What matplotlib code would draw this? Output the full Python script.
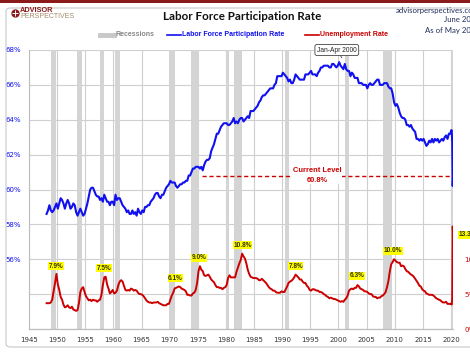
import matplotlib.pyplot as plt
import numpy as np
from matplotlib.lines import Line2D
from matplotlib.patches import Rectangle, FancyBboxPatch

# quarterly values 1948-2019, then monthly Jan-May 2020
years = list(range(1948, 2020))
lfpr_q = [
    [58.6, 58.8, 59.1, 58.8], [58.7, 58.8, 59.0, 59.2], [58.9, 59.2, 59.5, 59.4],
    [59.2, 58.9, 59.2, 59.4], [59.2, 58.9, 59.0, 59.2], [59.1, 58.7, 58.5, 58.7],
    [58.9, 58.7, 58.5, 58.6], [58.9, 59.2, 59.6, 60.0], [60.1, 60.1, 59.9, 59.7],
    [59.6, 59.6, 59.4, 59.5], [59.3, 59.7, 59.5, 59.3], [59.3, 59.1, 59.3, 59.3],
    [59.1, 59.7, 59.4, 59.5], [59.5, 59.3, 59.1, 59.0], [58.9, 58.7, 58.8, 58.6],
    [58.6, 58.8, 58.6, 58.7], [58.5, 58.9, 58.7, 58.6], [58.8, 58.7, 59.0, 59.0],
    [59.1, 59.1, 59.3, 59.4], [59.5, 59.7, 59.8, 59.8], [59.6, 59.5, 59.7, 59.7],
    [59.9, 60.1, 60.2, 60.3], [60.5, 60.4, 60.4, 60.4], [60.2, 60.1, 60.2, 60.3],
    [60.3, 60.4, 60.4, 60.5], [60.5, 60.8, 60.8, 61.0], [61.2, 61.2, 61.3, 61.3],
    [61.3, 61.2, 61.3, 61.1], [61.4, 61.6, 61.7, 61.7], [61.8, 62.2, 62.4, 62.6],
    [62.9, 63.2, 63.2, 63.4], [63.6, 63.7, 63.8, 63.8], [63.8, 63.7, 63.7, 63.8],
    [63.9, 64.1, 63.8, 63.9], [63.8, 64.0, 64.1, 64.1], [63.9, 64.0, 64.1, 64.2],
    [64.1, 64.5, 64.5, 64.5], [64.6, 64.7, 64.8, 65.0], [65.1, 65.3, 65.4, 65.4],
    [65.5, 65.6, 65.7, 65.8], [65.8, 65.8, 66.0, 66.1], [66.5, 66.5, 66.5, 66.5],
    [66.7, 66.6, 66.5, 66.4], [66.2, 66.3, 66.1, 66.1], [66.3, 66.6, 66.5, 66.4],
    [66.3, 66.3, 66.3, 66.3], [66.6, 66.6, 66.6, 66.7], [66.8, 66.6, 66.6, 66.6],
    [66.5, 66.7, 66.8, 67.0], [67.0, 67.1, 67.1, 67.1], [67.1, 67.0, 67.0, 67.2],
    [67.2, 67.1, 67.0, 67.1], [67.3, 67.1, 67.0, 66.9], [67.2, 66.9, 66.8, 66.8],
    [66.5, 66.7, 66.6, 66.4], [66.4, 66.4, 66.1, 66.1], [66.1, 66.0, 66.0, 66.0],
    [65.8, 66.0, 66.1, 66.0], [66.0, 66.1, 66.2, 66.3], [66.3, 66.0, 66.0, 66.0],
    [66.1, 66.1, 66.1, 65.9], [65.8, 65.8, 65.5, 65.0], [64.8, 64.9, 64.7, 64.4],
    [64.2, 64.1, 64.1, 64.0], [63.7, 63.7, 63.6, 63.7], [63.5, 63.4, 63.3, 62.9],
    [62.9, 62.8, 62.9, 62.8], [62.9, 62.7, 62.5, 62.6], [62.8, 62.7, 62.9, 62.7],
    [62.9, 62.8, 62.9, 62.7], [62.8, 62.9, 62.8, 63.0], [63.1, 62.9, 63.2, 63.2],
]
unrate_q = [
    [3.7, 3.7, 3.7, 3.8], [4.2, 5.4, 6.6, 7.9], [6.4, 5.6, 4.6, 4.2],
    [3.5, 3.1, 3.2, 3.4], [3.1, 3.0, 3.2, 2.8], [2.7, 2.6, 2.7, 3.7],
    [5.3, 5.8, 6.0, 5.3], [4.7, 4.4, 4.1, 4.2], [4.0, 4.2, 4.1, 4.1],
    [3.9, 4.1, 4.2, 4.9], [6.3, 7.4, 7.5, 6.4], [5.8, 5.1, 5.3, 5.6],
    [5.1, 5.2, 5.5, 6.3], [6.8, 7.0, 6.8, 6.2], [5.6, 5.5, 5.6, 5.5],
    [5.8, 5.7, 5.5, 5.6], [5.5, 5.2, 5.0, 5.0], [4.9, 4.7, 4.4, 4.1],
    [3.9, 3.8, 3.8, 3.7], [3.8, 3.8, 3.8, 3.9], [3.7, 3.6, 3.5, 3.4],
    [3.4, 3.4, 3.6, 3.6], [4.2, 4.8, 5.2, 5.8], [5.9, 6.0, 6.1, 6.0],
    [5.8, 5.7, 5.6, 5.4], [4.9, 4.9, 4.8, 4.8], [5.1, 5.2, 5.6, 6.6],
    [8.3, 9.0, 8.5, 8.3], [7.7, 7.6, 7.7, 7.8], [7.5, 7.1, 6.9, 6.7],
    [6.3, 6.0, 6.0, 5.9], [5.9, 5.7, 5.9, 6.0], [6.3, 7.3, 7.7, 7.4],
    [7.4, 7.4, 7.4, 8.2], [8.8, 9.4, 9.9, 10.8], [10.4, 10.1, 9.4, 8.5],
    [7.9, 7.5, 7.4, 7.3], [7.3, 7.3, 7.2, 7.0], [7.0, 7.2, 7.0, 6.8],
    [6.6, 6.3, 6.0, 5.8], [5.7, 5.5, 5.5, 5.3], [5.2, 5.2, 5.2, 5.4],
    [5.3, 5.3, 5.7, 6.1], [6.6, 6.8, 6.9, 7.1], [7.4, 7.8, 7.6, 7.4],
    [7.1, 7.1, 6.8, 6.6], [6.6, 6.2, 6.0, 5.6], [5.5, 5.7, 5.7, 5.6],
    [5.5, 5.5, 5.3, 5.3], [5.2, 5.0, 4.9, 4.7], [4.6, 4.4, 4.5, 4.4],
    [4.3, 4.3, 4.2, 4.1], [4.0, 3.9, 4.0, 3.9], [4.2, 4.4, 4.8, 5.5],
    [5.7, 5.8, 5.7, 5.9], [5.9, 6.3, 6.1, 5.8], [5.7, 5.6, 5.4, 5.4],
    [5.3, 5.1, 5.0, 5.0], [4.7, 4.6, 4.6, 4.4], [4.5, 4.5, 4.7, 4.8],
    [5.0, 5.3, 6.0, 6.9], [8.3, 9.3, 9.6, 10.0], [9.8, 9.6, 9.5, 9.5],
    [9.0, 9.1, 9.0, 8.6], [8.3, 8.2, 8.0, 7.8], [7.7, 7.5, 7.2, 6.9],
    [6.6, 6.2, 6.1, 5.7], [5.5, 5.4, 5.1, 5.0], [4.9, 4.9, 4.9, 4.8],
    [4.6, 4.4, 4.3, 4.2], [4.1, 3.9, 3.8, 3.8], [3.9, 3.6, 3.6, 3.6],
]
months_2020 = [2020.04, 2020.12, 2020.21, 2020.29, 2020.37]
lfpr_2020 = [63.4, 63.4, 62.7, 60.2, 60.8]
unrate_2020 = [3.6, 3.5, 4.4, 14.7, 13.3]

rec_start = [1948.83, 1953.50, 1957.58, 1960.29, 1969.92, 1973.83, 1980.00,
             1981.50, 1990.50, 2001.17, 2007.92, 2020.08]
rec_end = [1949.79, 1954.37, 1958.29, 1961.12, 1970.87, 1975.21, 1980.54,
           1982.87, 1991.21, 2001.87, 2009.46, 2020.33]

peak_x = [1949.8, 1958.3, 1971.0, 1975.2, 1983.0, 1992.4, 2003.3, 2009.7]
peak_y = [9.0, 8.7, 7.3, 10.2, 12.0, 9.0, 7.6, 11.2]
peak_txt = ['7.9%', '7.5%', '6.1%', '9.0%', '10.8%', '7.8%', '6.3%', '10.0%']

current = 60.8

# build date axis
qdates = np.repeat(years, 4) + np.tile([0.125, 0.375, 0.625, 0.875], len(years))
dates = np.concatenate([qdates, months_2020])
lfpr = np.concatenate([np.ravel(lfpr_q), lfpr_2020])
unrate = np.concatenate([np.ravel(unrate_q), unrate_2020])

BLUE = '#1010f0'
RED = '#cc0000'
SMALL = 'Liberation Sans'

fig = plt.figure(figsize=(4.7, 3.53), dpi=100)
fig.patch.set_facecolor('white')

# outer frame + top strip
fig.add_artist(FancyBboxPatch((6 / 470, 6 / 353), 1.2, 1 - 14 / 353,
                              boxstyle='round,pad=0,rounding_size=0.01',
                              transform=fig.transFigure, fc='none', ec='#c8c8c8', lw=0.8))
fig.add_artist(Rectangle((0, 1 - 3 / 353), 1, 3 / 353, transform=fig.transFigure,
                         fc='#8b1a1a', ec='none'))

ax = fig.add_axes([29 / 470, 1 - 329 / 353, 424 / 470, 279 / 353])
ax2 = ax.twinx()

for s, e in zip(rec_start, rec_end):
    ax.axvspan(s, e, color='#d4d4d4', lw=0, zorder=1)

ax.plot(dates, lfpr, color=BLUE, lw=1.5, zorder=3)
ax2.plot(dates, unrate, color=RED, lw=1.4, zorder=3)

ax.set_xlim(1945, 2020.35)
ax.set_ylim(52, 68)
ax2.set_ylim(0, 40)
ax.set_xticks(range(1945, 2021, 5))
ax.set_yticks(range(52, 69, 2))
ax.set_yticklabels(['', ''] + [f'{v}%' for v in range(56, 69, 2)])
ax2.set_yticks([0, 5, 10])
ax2.set_yticklabels(['0%', '5%', '10%'])
ax.grid(True, color='#cfcfcf', lw=0.8, zorder=0)
ax.set_axisbelow(True)

ax.tick_params(axis='x', length=0, labelsize=5, labelcolor='#333333', pad=6)
ax.tick_params(axis='y', length=0, labelsize=5, labelcolor=BLUE, pad=6)
ax2.tick_params(axis='y', length=0, labelsize=5, labelcolor=RED, pad=8)
for a in (ax, ax2):
    for side in ('top', 'right'):
        a.spines[side].set_visible(False)
    a.spines['left'].set_color('#bdbdbd')
    a.spines['bottom'].set_color('#bdbdbd')
ax2.spines['left'].set_visible(False)

# current level line
ax.hlines(current, 1975.7, 2020.3, colors=RED, linestyles=(0, (3, 2)), lw=1.0, zorder=2)
ax.text(1996.2, current, 'Current Level\n60.8%', ha='center', va='center', color=RED,
        fontsize=5.4, fontweight='bold', family=SMALL, linespacing=1.5, zorder=4,
        bbox=dict(fc='white', ec='none', pad=0.5))

# peak labels
for x, y, t in zip(peak_x, peak_y, peak_txt):
    ax2.text(x, y, t, ha='center', va='center', fontsize=4.7, fontweight='bold',
             family=SMALL, color='#333300', zorder=5,
             bbox=dict(fc='#ffff00', ec='none', pad=0.3))
ax2.text(2021.3, 13.5, '13.3%', ha='left', va='center', fontsize=4.7, fontweight='bold',
         family=SMALL, color='#333300', clip_on=False,
         bbox=dict(fc='#ffff00', ec='none', pad=0.3))

# peak callout
ax.annotate('Jan-Apr 2000', xy=(2000.6, 67.55), xytext=(1999.7, 68.0),
            ha='center', va='center', fontsize=4.8, family=SMALL, color='#222222',
            annotation_clip=False,
            bbox=dict(boxstyle='round,pad=0.3', fc='white', ec='#444444', lw=0.6),
            arrowprops=dict(arrowstyle='-', color='#444444', lw=0.6))

# title and header text
fig.text(242 / 470, 1 - 16 / 353, 'Labor Force Participation Rate', ha='center', va='center',
         fontsize=8.4, fontweight='bold', family='Lato', color='#111111')
fig.text(480 / 470, 1 - 10 / 353, 'advisorperspectives.com', ha='right', va='center',
         fontsize=5.6, family='Lato', color='#1f2d5a')
fig.text(480 / 470, 1 - 20 / 353, 'June 2020', ha='right', va='center',
         fontsize=5.6, family='Lato', color='#1f2d5a')
fig.text(480 / 470, 1 - 30 / 353, 'As of May 2020', ha='right', va='center',
         fontsize=5.6, family='Lato', color='#1f2d5a')

# logo
fig.add_artist(Line2D([15 / 470], [1 - 13 / 353], transform=fig.transFigure, marker='o',
                      ms=5, mfc='#8b1a1a', mec='#8b1a1a'))
fig.add_artist(Line2D([15 / 470], [1 - 13 / 353], transform=fig.transFigure, marker='+',
                      ms=4, mew=0.7, mec='white'))
fig.text(20 / 470, 1 - 10 / 353, 'ADVISOR', ha='left', va='center', fontsize=5.3,
         fontweight='bold', family=SMALL, color='#8b1a1a')
fig.text(20 / 470, 1 - 16 / 353, 'PERSPECTIVES', ha='left', va='center', fontsize=5.0,
         family=SMALL, color='#a08a6a')

# legend
ly = 1 - 35 / 353
fig.add_artist(Line2D([100 / 470, 114 / 470], [ly, ly], transform=fig.transFigure,
                      color='#c8c8c8', lw=3.5))
fig.text(116 / 470, ly, 'Recessions', ha='left', va='center', fontsize=5.0,
         fontweight='bold', family=SMALL, color='#888888')
fig.add_artist(Line2D([167 / 470, 181 / 470], [ly, ly], transform=fig.transFigure,
                      color=BLUE, lw=1.2))
fig.text(182 / 470, ly, 'Labor Force Participation Rate', ha='left', va='center',
         fontsize=5.0, fontweight='bold', family=SMALL, color=BLUE)
fig.add_artist(Line2D([305 / 470, 319 / 470], [ly, ly], transform=fig.transFigure,
                      color=RED, lw=1.2))
fig.text(320 / 470, ly, 'Unemployment Rate', ha='left', va='center',
         fontsize=5.0, fontweight='bold', family=SMALL, color=RED)

fig.savefig('out.png', dpi=100)
